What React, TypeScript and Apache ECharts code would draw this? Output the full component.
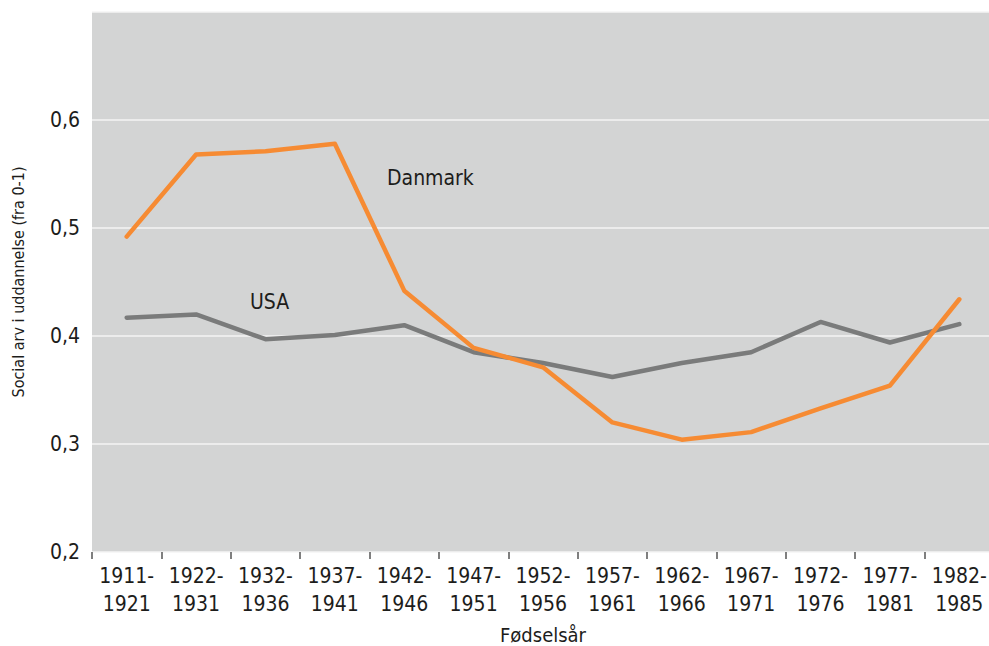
import React, { useEffect, useRef } from "react";
import * as echarts from "echarts";

const categories = [
  "1911-\n1921", "1922-\n1931", "1932-\n1936", "1937-\n1941", "1942-\n1946",
  "1947-\n1951", "1952-\n1956", "1957-\n1961", "1962-\n1966", "1967-\n1971",
  "1972-\n1976", "1977-\n1981", "1982-\n1985",
];
const danmark = [0.492, 0.568, 0.571, 0.578, 0.442, 0.389, 0.371, 0.32, 0.304, 0.311, 0.333, 0.354, 0.434];
const usa = [0.417, 0.42, 0.397, 0.401, 0.41, 0.385, 0.375, 0.362, 0.375, 0.385, 0.413, 0.394, 0.411];
const yTicks = [0.2, 0.3, 0.4, 0.5, 0.6];

const FONT = "'DejaVu Sans Condensed', 'Liberation Sans Narrow', 'Noto Sans', sans-serif";
const TEXT = "#1d1d1b";

export default function App() {
  const ref = useRef<HTMLDivElement>(null);
  useEffect(() => {
    if (!ref.current) return;
    const chart = echarts.init(ref.current, undefined, { renderer: "svg" });
    chart.setOption({
      animation: false,
      textStyle: { fontFamily: FONT },
      grid: {
        left: 92, top: 12, right: 6, bottom: 94,
        outerBoundsMode: "none",
        containLabel: false,
        show: true, backgroundColor: "#d3d4d4", borderWidth: 0,
      },
      xAxis: {
        type: "category",
        data: categories,
        boundaryGap: true,
        name: "Fødselsår",
        nameLocation: "middle",
        nameGap: 72,
        nameTextStyle: { fontFamily: FONT, fontSize: 20, lineHeight: 22, color: TEXT },
        axisLine: { show: false },
        axisTick: { show: true, interval: 0, length: 7, lineStyle: { color: "#555", width: 1.5 } },
        axisLabel: {
          interval: 0, fontFamily: FONT, fontSize: 21, color: TEXT,
          lineHeight: 28, margin: 10,
        },
        splitLine: { show: false },
      },
      yAxis: {
        type: "value",
        min: 0.2, max: 0.7, interval: 0.1,
        name: "Social arv i uddannelse (fra 0-1)",
        nameLocation: "middle",
        nameGap: 66,
        nameRotate: 90,
        nameTextStyle: { fontFamily: FONT, fontSize: 16, color: TEXT },
        axisLine: { show: false },
        axisTick: { show: false },
        axisLabel: {
          fontFamily: FONT, fontSize: 21, color: TEXT, margin: 12,
          formatter: (v: number) => {
            const t = yTicks.find((x) => Math.abs(x - v) < 1e-6);
            return t === undefined ? "" : t.toFixed(1).replace(".", ",");
          },
        },
        splitLine: { show: true, lineStyle: { color: "#f4f4f4", width: 1.5 } },
      },
      series: [
        {
          name: "USA", type: "line", data: usa, symbol: "none",
          lineStyle: { color: "#7a7b7b", width: 4.5, cap: "round", join: "round" },
          z: 2,
        },
        {
          name: "Danmark", type: "line", data: danmark, symbol: "none",
          lineStyle: { color: "#f68b33", width: 4.5, cap: "round", join: "round" },
          z: 3,
        },
      ],
      graphic: [
        { type: "text", left: 387, top: 167, style: { text: "Danmark", fontFamily: FONT, fontSize: 21, fill: TEXT } },
        { type: "text", left: 250, top: 291, style: { text: "USA", fontFamily: FONT, fontSize: 21, fill: TEXT } },
      ],
    });
    return () => chart.dispose();
  }, []);
  return (
    <div
      ref={ref}
      style={{ position: "fixed", left: 0, top: 0, width: 1000, height: 646, background: "#fff" }}
    />
  );
}
